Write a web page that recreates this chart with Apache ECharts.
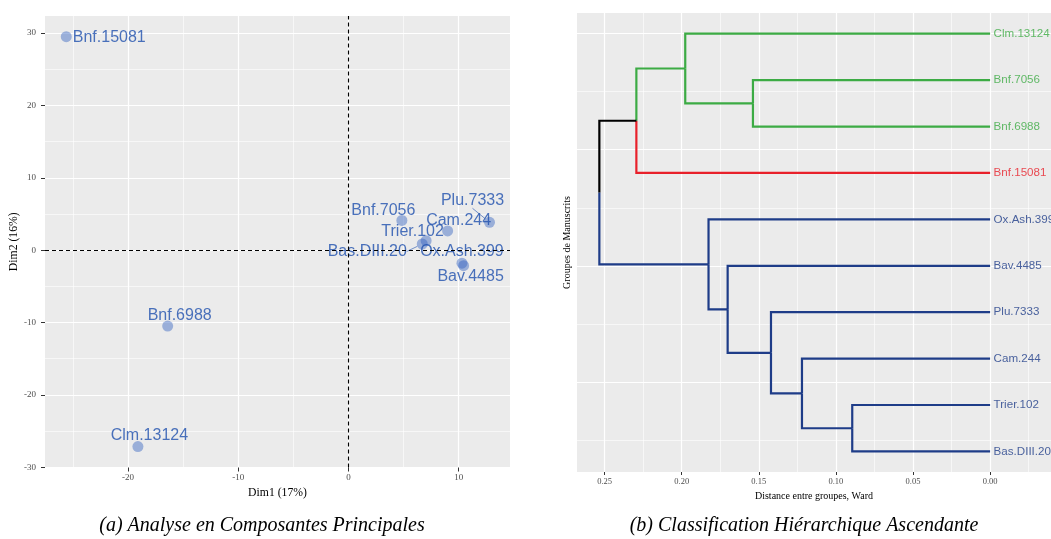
<!DOCTYPE html>
<html lang="fr">
<head>
<meta charset="UTF-8">
<title>ACP et CAH des manuscrits</title>
<script src="https://cdn.jsdelivr.net/npm/echarts@6/dist/echarts.min.js"></script>
<style>html,body{margin:0;padding:0;background:#fff;}</style>
</head>
<body>
<div id="main" style="width:1051px;height:539px;"></div>
<script type="text/javascript">
// --- (a) ACP : coordonnées des manuscrits sur Dim1 / Dim2
var names = ['Bnf.15081', 'Bnf.6988', 'Clm.13124', 'Bnf.7056', 'Plu.7333', 'Cam.244', 'Trier.102', 'Bas.DIII.20', 'Ox.Ash.399', 'Bav.4485'];
var dim1 = [-25.6, -16.4, -19.1, 4.85, 12.8, 9.0, 7.05, 6.7, 10.3, 10.45];
var dim2 = [29.5, -10.5, -27.15, 4.1, 3.85, 2.65, 1.3, 0.85, -1.8, -2.15];
// décalage des étiquettes en px (comme ggrepel)
var labelShift = [[43, 1], [12, -11], [11.5, -10.7], [-18.5, -10], [-17, -22], [11, -10], [-13.5, -9.3], [-55, 7.4], [0, -11.6], [7, 11]];
var withSegment = ['Plu.7333', 'Bas.DIII.20'];

var pcaXMajor = [-20, -10, 0, 10];
var pcaXMinor = [-25, -15, -5, 5];
var pcaYMajor = [-30, -20, -10, 0, 10, 20, 30];
var pcaYMinor = [-25, -15, -5, 5, 15, 25];

// --- (b) CAH : feuilles de bas en haut, fusions façon hclust
var leaves = ['Bas.DIII.20', 'Trier.102', 'Cam.244', 'Plu.7333', 'Bav.4485', 'Ox.Ash.399', 'Bnf.15081', 'Bnf.6988', 'Bnf.7056', 'Clm.13124'];
var cluster = [3, 3, 3, 3, 3, 3, 2, 1, 1, 1];
var merge = [[-1, -2], [-3, 1], [-4, 2], [-5, 3], [-6, 4], [-8, -9], [-10, 6], [-7, 7], [5, 8]];
var heights = [0.0894, 0.122, 0.1421, 0.1702, 0.1826, 0.1538, 0.1977, 0.2294, 0.2534];
var clusterColors = {0: '#000000', 1: '#3cab44', 2: '#e8202a', 3: '#1e3c88'};

var dendXMajor = [0, 0.05, 0.1, 0.15, 0.2, 0.25];
var dendXMinor = [-0.025, 0.025, 0.075, 0.125, 0.175, 0.225];
var dendYMajor = [2.5, 5, 7.5, 10];
var dendYMinor = [1.25, 3.75, 6.25, 8.75];

var serif = 'Liberation Serif';
var sans = 'Liberation Sans';
var labelBlue = '#1f50ae';

// segments du dendrogramme
var nodes = [];
var segs = [];
function nodeOf(ref) {
    if (ref < 0) return {h: 0, y: -ref, cl: cluster[-ref - 1]};
    return nodes[ref - 1];
}
merge.forEach(function (m, i) {
    var a = nodeOf(m[0]), b = nodeOf(m[1]);
    var h = heights[i], y = (a.y + b.y) / 2;
    [a, b].forEach(function (c) {
        segs.push({coords: [[h, y], [h, c.y], [c.h, c.y]], lineStyle: {color: clusterColors[c.cl]}});
    });
    nodes.push({h: h, y: y, cl: a.cl === b.cl ? a.cl : 0});
});

var pcaData = names.map(function (n, i) {
    var item = {name: n, value: [dim1[i], dim2[i]]};
    if (withSegment.indexOf(n) >= 0) {
        item.labelLine = {show: true, lineStyle: {color: labelBlue, width: 0.6}};
    }
    return item;
});

var leafData = leaves.map(function (n, i) {
    return {name: n, value: [0, i + 1], label: {color: clusterColors[cluster[i]]}};
});

function majorAxis(grid, min, max, vals, extra) {
    var ax = {
        type: 'value', gridIndex: grid, min: min, max: max,
        axisLine: {show: false, onZero: false},
        axisTick: {show: true, customValues: vals, length: 4, lineStyle: {color: '#333', width: 1}},
        axisLabel: {customValues: vals, color: '#4d4d4d', fontFamily: serif, fontSize: 9},
        splitLine: {show: true, lineStyle: {color: '#ffffff', width: 1.2}}
    };
    for (var k in extra) ax[k] = extra[k];
    return ax;
}
function minorAxis(grid, min, max, vals, inverse) {
    return {
        type: 'value', gridIndex: grid, min: min, max: max, inverse: !!inverse,
        axisLine: {show: false, onZero: false},
        axisTick: {show: false, customValues: vals},
        axisLabel: {show: false, customValues: vals},
        splitLine: {show: true, lineStyle: {color: '#ffffff', width: 0.6}}
    };
}

var chart = echarts.init(document.getElementById('main'));
var option = {
    animation: false,
    backgroundColor: '#ffffff',
    grid: [
        {left: 45, top: 16, width: 465, height: 451.5, show: true, backgroundColor: '#ebebeb', borderWidth: 0, containLabel: false, outerBoundsMode: 'none'},
        {left: 577, top: 13, right: 0, height: 459, show: true, backgroundColor: '#ebebeb', borderWidth: 0, containLabel: false, outerBoundsMode: 'none'}
    ],
    xAxis: [
        majorAxis(0, -27.53, 14.66, pcaXMajor, {
            position: 'bottom',
            name: 'Dim1 (17%)', nameLocation: 'middle', nameGap: 12,
            nameTextStyle: {fontFamily: serif, fontSize: 11.7, color: '#000'},
            axisLabel: {customValues: pcaXMajor, color: '#4d4d4d', fontFamily: serif, fontSize: 9, margin: 6}
        }),
        minorAxis(0, -27.53, 14.66, pcaXMinor),
        majorAxis(1, -0.0395, 0.2679, dendXMajor, {
            position: 'bottom', inverse: true,
            name: 'Distance entre groupes, Ward', nameLocation: 'middle', nameGap: 9,
            nameTextStyle: {fontFamily: serif, fontSize: 10, color: '#000'},
            axisTick: {show: true, customValues: dendXMajor, length: 3, lineStyle: {color: '#333', width: 1}},
            axisLabel: {
                customValues: dendXMajor, color: '#4d4d4d', fontFamily: serif, fontSize: 8.5, margin: 5,
                formatter: function (v) { return v.toFixed(2); }
            }
        }),
        minorAxis(1, -0.0395, 0.2679, dendXMinor, true)
    ],
    yAxis: [
        majorAxis(0, -30.04, 32.36, pcaYMajor, {
            position: 'left',
            name: 'Dim2 (16%)', nameLocation: 'middle', nameGap: 22,
            nameTextStyle: {fontFamily: serif, fontSize: 11.7, color: '#000'},
            axisLabel: {customValues: pcaYMajor, color: '#4d4d4d', fontFamily: serif, fontSize: 9, margin: 9}
        }),
        minorAxis(0, -30.04, 32.36, pcaYMinor),
        majorAxis(1, 0.557, 10.446, dendYMajor, {
            position: 'left',
            name: 'Groupes de Manuscrits', nameLocation: 'middle', nameGap: 5,
            nameTextStyle: {fontFamily: serif, fontSize: 10, color: '#000'},
            axisTick: {show: false, customValues: dendYMajor},
            axisLabel: {show: false, customValues: dendYMajor}
        }),
        minorAxis(1, 0.557, 10.446, dendYMinor)
    ],
    graphic: [
        {type: 'text', x: 262, y: 526, style: {text: '(a) Analyse en Composantes Principales', align: 'center', verticalAlign: 'middle', font: 'italic 20px "Liberation Serif"', fill: '#000'}},
        {type: 'text', x: 804, y: 526, style: {text: '(b) Classification Hiérarchique Ascendante', align: 'center', verticalAlign: 'middle', font: 'italic 20px "Liberation Serif"', fill: '#000'}}
    ],
    series: [
        {
            type: 'scatter', xAxisIndex: 0, yAxisIndex: 0,
            symbolSize: 11,
            itemStyle: {color: 'rgba(47,95,191,0.55)'},
            data: pcaData,
            label: {
                show: true, position: 'inside', formatter: '{b}',
                color: labelBlue, fontFamily: sans, fontSize: 16,
                textBorderWidth: 0, textBorderColor: 'transparent'
            },
            labelLayout: function (p) {
                var s = labelShift[p.dataIndex];
                return {dx: s[0], dy: s[1]};
            },
            markLine: {
                silent: true, symbol: 'none',
                label: {show: false},
                lineStyle: {color: '#000', type: [4, 3], width: 1.1},
                data: [{xAxis: 0}, {yAxis: 0}]
            },
            z: 3
        },
        {
            type: 'lines', coordinateSystem: 'cartesian2d', xAxisIndex: 2, yAxisIndex: 2,
            polyline: true, silent: true,
            lineStyle: {width: 2.2, opacity: 1},
            data: segs
        },
        {
            type: 'scatter', xAxisIndex: 2, yAxisIndex: 2,
            symbolSize: 1, silent: true,
            itemStyle: {color: 'transparent'},
            data: leafData,
            label: {show: true, position: 'right', distance: 3, formatter: '{b}', fontFamily: sans, fontSize: 11.6}
        }
    ]
};
option && chart.setOption(option);
</script>
</body>
</html>
